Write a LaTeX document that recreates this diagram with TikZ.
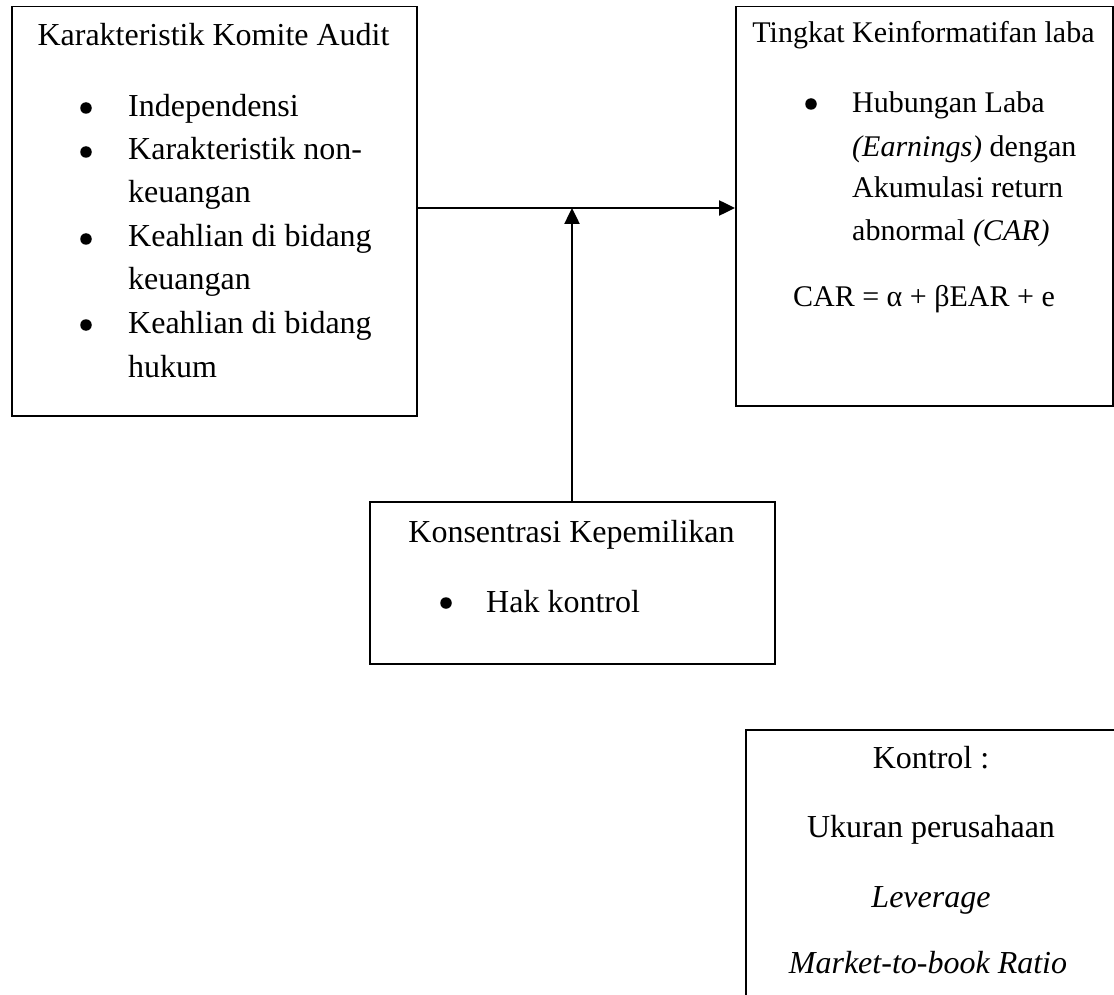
\documentclass[tikz,border=0pt]{standalone}
\usepackage{fontspec}
\setmainfont{Liberation Serif}
\usetikzlibrary{arrows.meta}
\begin{document}
\begin{tikzpicture}[x=1pt,y=-1pt,
  box/.style={draw, line width=1.5pt, rectangle, anchor=north west, inner sep=0pt},
  lt/.style={font=\fontsize{32}{38}\selectfont, inner sep=0pt},
  rt/.style={font=\fontsize{30}{36}\selectfont, inner sep=0pt},
  bul/.style={circle, fill, inner sep=0pt, minimum size=11.5pt},
  arr/.style={line width=2.5pt, -{Triangle[length=16pt,width=15pt]}}]
\useasboundingbox (0,0) rectangle (1114,995);
\clip (0,0) rectangle (1114,995);
\fill[white] (0,0) rectangle (1114,995);
% boxes
\node[box, minimum width=405pt, minimum height=409pt] (L) at (11,6) {};
\node[box, minimum width=377pt, minimum height=399pt] (R) at (735,6) {};
\node[box, minimum width=405pt, minimum height=162pt] (M) at (369,501) {};
\node[box, minimum width=372pt, minimum height=300pt] (K) at (745,729) {};
% left box text
\node[lt, anchor=base] (lt0) at (213.5,46) {Karakteristik Komite Audit};
\node[bul] (lb1) at (86,108) {};
\node[lt, anchor=base west] (lt1) at (128,117) {Independensi};
\node[bul] (lb2) at (86,152) {};
\node[lt, anchor=base west] (lt2) at (128,160) {Karakteristik non-};
\node[lt, anchor=base west] (lt3) at (128,203) {keuangan};
\node[bul] (lb3) at (86,239) {};
\node[lt, anchor=base west] (lt4) at (128,247) {Keahlian di bidang};
\node[lt, anchor=base west] (lt5) at (128,290) {keuangan};
\node[bul] (lb4) at (86,325) {};
\node[lt, anchor=base west] (lt6) at (128,333) {Keahlian di bidang};
\node[lt, anchor=base west] (lt7) at (128,377) {hukum};
% right box text
\node[rt, anchor=base] (rt0) at (923.5,43) {Tingkat Keinformatifan laba};
\node[bul] (rb1) at (811,104) {};
\node[rt, anchor=base west] (rt1) at (852,113) {Hubungan Laba};
\node[rt, anchor=base west] (rt2) at (852,157) {\textit{(Earnings)} dengan};
\node[rt, anchor=base west] (rt3) at (852,198) {Akumulasi return};
\node[rt, anchor=base west] (rt4) at (852,241) {abnormal \textit{(CAR)}};
\node[rt, anchor=base] (rt5) at (924,306) {CAR = α + βEAR + e};
% middle box text
\node[lt, anchor=base] (mt0) at (571.5,542) {Konsentrasi Kepemilikan};
\node[bul] (mb1) at (446,603) {};
\node[lt, anchor=base west] (mt1) at (486,612) {Hak kontrol};
% bottom box text
\node[lt, anchor=base] (kt0) at (931,768) {Kontrol :};
\node[lt, anchor=base] (kt1) at (931,837) {Ukuran perusahaan};
\node[lt, anchor=base] (kt2) at (931,907) {\textit{Leverage}};
\node[lt, anchor=base] (kt3) at (928,973) {\textit{Market-to-book Ratio}};
% connectors
\coordinate (J) at (572,208);
\draw[arr] (L.east |- J) -- (R.west |- J);
\draw[arr] (M.north -| J) -- (J);
\end{tikzpicture}
\end{document}
